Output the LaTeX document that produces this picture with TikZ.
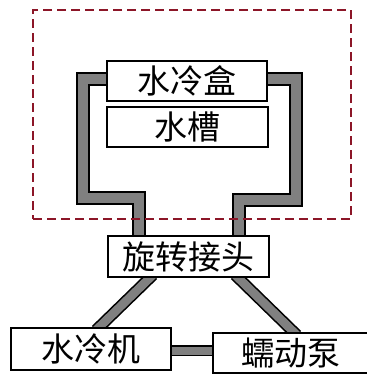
\documentclass[tikz,border=0pt]{standalone}
\usepackage{fontspec}
\newfontfamily\cjk{Noto Sans CJK SC}
\usetikzlibrary{backgrounds}
\definecolor{pipegray}{RGB}{128,128,128}
\definecolor{dashred}{RGB}{140,22,40}
\begin{document}
\begin{tikzpicture}[x=1pt,y=-1pt,
  box/.style={draw=black, line width=1.6pt, fill=white, inner sep=0pt,
    font=\cjk\fontsize{33}{33}\selectfont},
  pipe/.style={draw=black, line width=2pt, double=pipegray, double distance=10pt, line join=miter},
  thinpipe/.style={draw=black, line width=1.6pt, double=pipegray, double distance=8.6pt},
  hpipe/.style={draw=black, line width=1.5pt, double=pipegray, double distance=8pt}]
\useasboundingbox (0,0) rectangle (367,376);
\node[draw=dashred, line width=1.8pt, dash pattern=on 9pt off 5pt, minimum width=318pt, minimum height=209pt, inner sep=0pt] (zone) at (192,114.5) {};
\node[box, minimum width=160pt, minimum height=40pt] (lid) at (187,81) {水冷盒};
\node[box, minimum width=161pt, minimum height=40pt] (tank) at (187.5,127) {水槽};
\node[box, minimum width=161pt, minimum height=41pt] (joint) at (188.5,256.5) {旋转接头};
\node[box, minimum width=160pt, minimum height=42pt] (chiller) at (91,349) {水冷机};
\node[box, minimum width=156pt, minimum height=40pt] (pump) at (291,353) {蠕动泵};
\begin{scope}[on background layer]
\draw[pipe] ([xshift=3pt,yshift=2pt]lid.west) -| (83,197.5) -| ([xshift=-49.5pt,yshift=-4pt]joint.north);
\draw[pipe] ([xshift=-3pt,yshift=2pt]lid.east) -| (296,200) -| ([xshift=50.5pt,yshift=-4pt]joint.north);
\draw[thinpipe] ([xshift=-35.5pt,yshift=3pt]joint.south) -- ([xshift=5pt,yshift=-3pt]chiller.north);
\draw[thinpipe] ([xshift=46.5pt,yshift=3pt]joint.south) -- ([xshift=6pt,yshift=-3pt]pump.north);
\draw[hpipe] ([xshift=-3pt,yshift=-1.5pt]chiller.east) -- ([xshift=3pt,yshift=2.5pt]pump.west);
\end{scope}
\end{tikzpicture}
\end{document}
